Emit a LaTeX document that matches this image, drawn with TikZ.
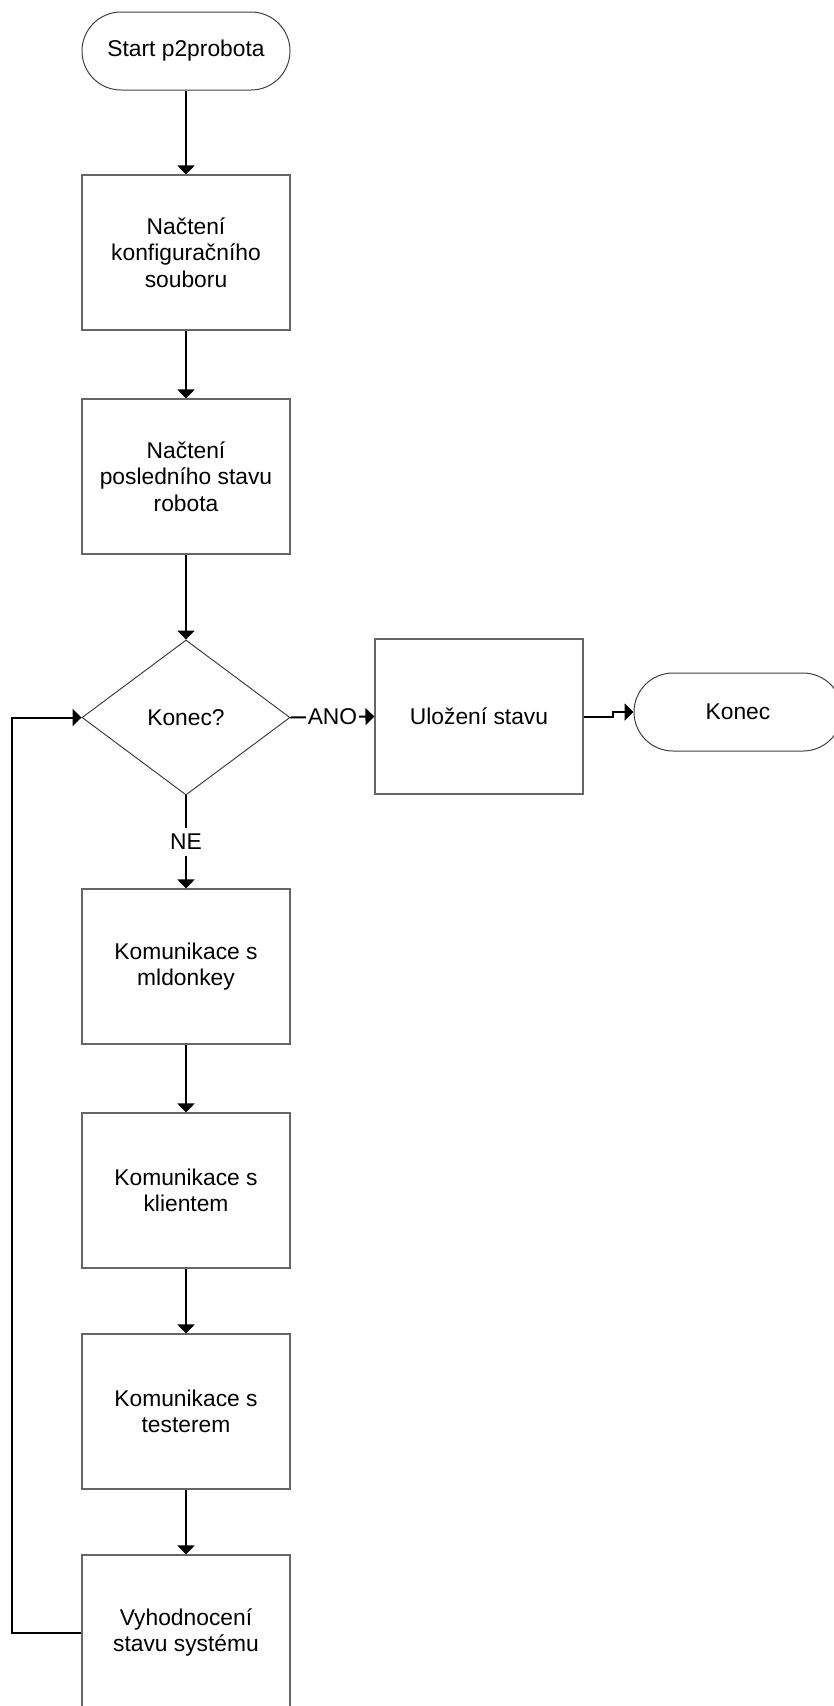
\documentclass[tikz,border=0pt]{standalone}
\usepackage{fontspec}
\setmainfont{Liberation Sans}
\usetikzlibrary{shapes.geometric,arrows.meta}
\begin{document}
\begin{tikzpicture}[x=1pt,y=-1pt,
  font=\fontsize{22.8}{26.5}\selectfont,
  stepbox/.style={draw=black!60,line width=1.1pt,rectangle,minimum width=208pt,
    minimum height=155pt,inner sep=0pt,align=center},
  terminal/.style={draw=black!75,line width=1pt,rectangle,rounded corners=39pt,
    minimum width=208pt,minimum height=78pt,inner sep=0pt,align=center},
  decision/.style={draw=black!80,line width=0.9pt,diamond,minimum width=208pt,
    minimum height=155pt,inner sep=0pt,align=center},
  flow/.style={draw=black,line width=2pt,-{Triangle[length=9pt,width=17pt]}},
  branch/.style={fill=white,inner xsep=1.5pt,inner ysep=6pt,midway}]
\useasboundingbox (0,0) rectangle (834,1706);
\clip (0,0) rectangle (834,1706);

% main column
\node[terminal] (start) at (186,51) {Start p2probota};
\node[stepbox] (cfg) at (186,252.5) {Načtení\\konfiguračního\\souboru};
\node[stepbox] (last) at (186,476.5) {Načtení\\posledního stavu\\robota};
\node[decision] (end) at (186,717.5) {Konec?};
\node[stepbox] (mld) at (186,966.5) {Komunikace s\\mldonkey};
\node[stepbox] (cli) at (186,1190.5) {Komunikace s\\klientem};
\node[stepbox] (tst) at (186,1411.5) {Komunikace s\\testerem};
\node[stepbox] (eval) at (186,1632.5) {Vyhodnocení\\stavu systému};

% exit branch
\node[stepbox] (save) at (479,716.5) {Uložení stavu};
\node[terminal] (fin) at (738,712) {Konec};

\coordinate (jog1) at (613,717.3);
\coordinate (jog2) at (613,712);
\coordinate (loopbl) at (12,1632.5);
\coordinate (looptl) at (12,717.5);

\draw[flow] (start) -- (cfg);
\draw[flow] (cfg) -- (last);
\draw[flow] (last) -- (end.north);
\draw[flow] (end.east) -- node[branch] {ANO} (save.west);
\draw[flow] (save.east |- jog1) -- (jog1) -- (jog2) -- (fin.west);
\draw[flow] (end.south) -- node[branch] {NE} (mld.north);
\draw[flow] (mld) -- (cli);
\draw[flow] (cli) -- (tst);
\draw[flow] (tst) -- (eval);
\draw[flow] (eval.west) -- (loopbl) -- (looptl) -- (end.west);
\end{tikzpicture}
\end{document}
